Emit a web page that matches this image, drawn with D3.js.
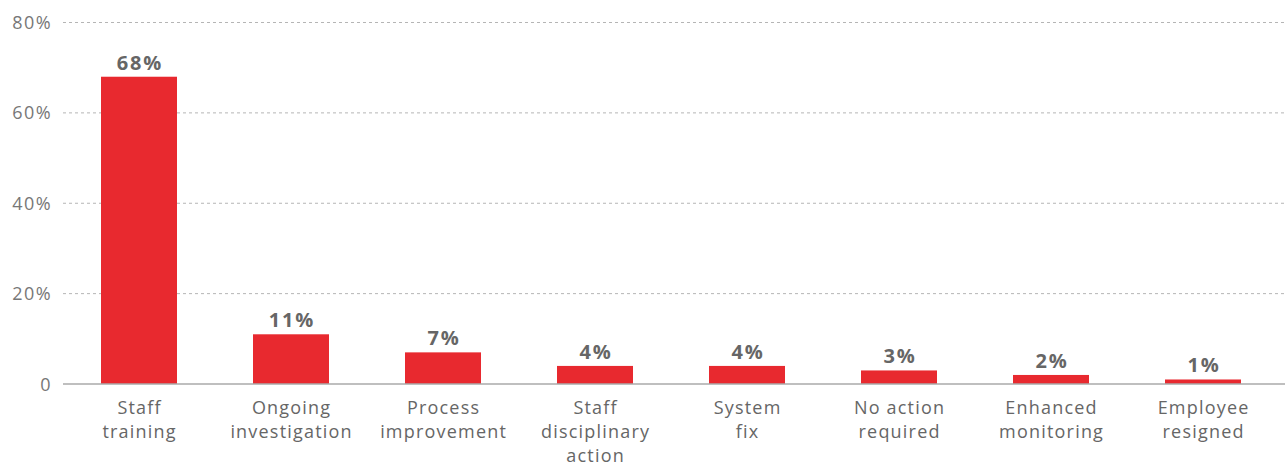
<!DOCTYPE html>
<html>
<head>
<meta charset="utf-8">
<script src="https://cdn.jsdelivr.net/npm/d3@7"></script>
<style>
  html, body { margin: 0; padding: 0; background: #fff; }
  svg { display: block; font-family: "Open Sans", "Noto Sans", sans-serif; }
</style>
</head>
<body>
<svg id="chart" width="1285" height="462"></svg>
<script>
// Actions taken after an incident, share of responses
const categories = [
  ["Staff", "training"],
  ["Ongoing", "investigation"],
  ["Process", "improvement"],
  ["Staff", "disciplinary", "action"],
  ["System", "fix"],
  ["No action", "required"],
  ["Enhanced", "monitoring"],
  ["Employee", "resigned"]
];
const values = [68, 11, 7, 4, 4, 3, 2, 1];
const yTicks = [0, 20, 40, 60, 80];
const yTickLabels = ["0", "20%", "40%", "60%", "80%"];

const svg = d3.select("#chart");
const keys = categories.map(c => c.join(" "));

const x = d3.scaleBand()
  .domain(keys)
  .range([63, 1279])
  .paddingInner(0.5)
  .paddingOuter(0.25);

const y = d3.scaleLinear()
  .domain([0, 80])
  .range([384, 22.5]);

// gridlines
svg.append("g")
  .selectAll("line")
  .data(yTicks.filter(d => d > 0))
  .join("line")
  .attr("x1", 63).attr("x2", 1285)
  .attr("y1", d => y(d)).attr("y2", d => y(d))
  .attr("stroke", "#b5b5b5")
  .attr("stroke-width", 1)
  .attr("stroke-dasharray", "3,3");

// y tick labels
svg.append("g")
  .selectAll("text")
  .data(yTicks)
  .join("text")
  .attr("x", 52)
  .attr("y", d => y(d) + 6.5)
  .attr("text-anchor", "end")
  .attr("fill", "#777")
  .attr("font-size", 18)
  .attr("letter-spacing", 1.4)
  .text((d, i) => yTickLabels[i]);

// bars
svg.append("g")
  .selectAll("rect")
  .data(values)
  .join("rect")
  .attr("x", (d, i) => x(keys[i]))
  .attr("width", x.bandwidth())
  .attr("y", d => y(d))
  .attr("height", d => y(0) - y(d))
  .attr("fill", "#e8292f");

// baseline
svg.append("line")
  .attr("x1", 63).attr("x2", 1285)
  .attr("y1", y(0)).attr("y2", y(0))
  .attr("stroke", "#aaa")
  .attr("stroke-width", 1.5);

// value labels
svg.append("g")
  .selectAll("text")
  .data(values)
  .join("text")
  .attr("x", (d, i) => x(keys[i]) + x.bandwidth() / 2 + 1)
  .attr("y", d => y(d) - 7)
  .attr("text-anchor", "middle")
  .attr("fill", "#666")
  .attr("font-size", 20)
  .attr("font-weight", 700)
  .attr("letter-spacing", 1.8)
  .text(d => d + "%");

// category labels
const cat = svg.append("g")
  .selectAll("text")
  .data(categories)
  .join("text")
  .attr("x", (d, i) => x(keys[i]) + x.bandwidth() / 2 + 0.6)
  .attr("y", 414)
  .attr("text-anchor", "middle")
  .attr("fill", "#666")
  .attr("font-size", 18)
  .attr("letter-spacing", 1.2);

cat.selectAll("tspan")
  .data(d => d)
  .join("tspan")
  .attr("x", function () { return d3.select(this.parentNode).attr("x"); })
  .attr("dy", (d, i) => i === 0 ? 0 : 24)
  .text(d => d);
</script>
</body>
</html>
